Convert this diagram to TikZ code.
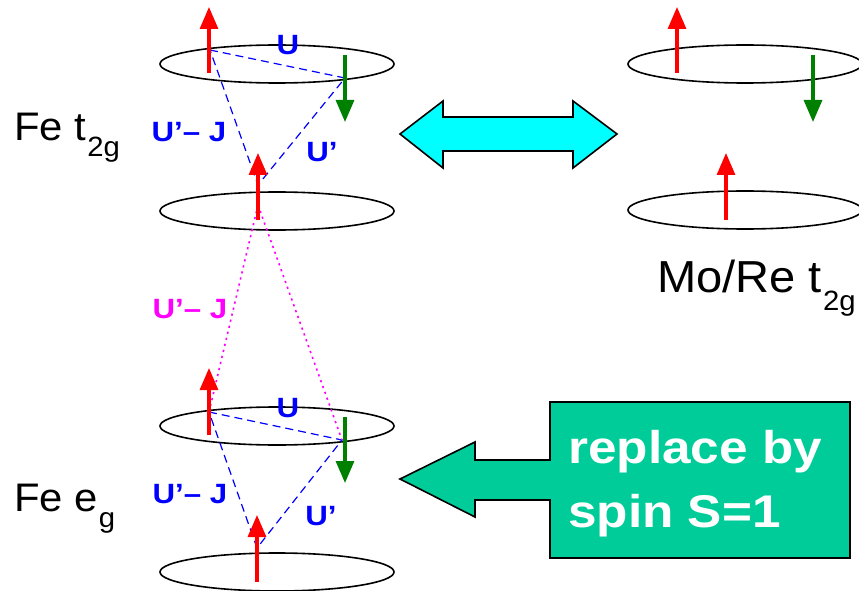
\documentclass[tikz,border=0pt]{standalone}
\usepackage{fontspec}
\usetikzlibrary{arrows.meta,shapes.geometric}
\newfontfamily\lab[FakeStretch=1.12]{Liberation Sans}
\newfontfamily\labw[FakeStretch=1.05]{Liberation Sans}
\definecolor{spinred}{RGB}{255,0,0}
\definecolor{spingreen}{RGB}{0,128,0}
\definecolor{ublue}{RGB}{0,0,255}
\definecolor{umag}{RGB}{255,0,255}
\definecolor{swapcyan}{RGB}{0,255,255}
\definecolor{boxteal}{RGB}{0,204,153}
\tikzset{
  level/.style={draw=black, line width=1.6bp, ellipse, minimum width=234bp, minimum height=38bp, inner sep=0pt},
  spin/.style={line width=3.2bp, -{Triangle[width=18bp,length=22bp]}},
  upspin/.style={spin, spinred},
  downspin/.style={spin, spingreen},
  coulomb/.style={ublue, line width=1.2bp, dash pattern=on 8bp off 5bp},
  hund/.style={umag, line width=1.6bp, dash pattern=on 2.2bp off 4bp},
  blab/.style={text=ublue, font=\lab\bfseries\fontsize{28}{28}\selectfont, anchor=base, inner sep=0pt},
  mlab/.style={text=umag, font=\lab\bfseries\fontsize{28}{28}\selectfont, anchor=base, inner sep=0pt},
  big/.style={font=\labw\fontsize{40}{40}\selectfont, anchor=base west, inner sep=0pt},
  bigger/.style={font=\labw\fontsize{45}{45}\selectfont, anchor=base west, inner sep=0pt},
  fatarrow/.style={draw=black, line width=1.6bp, line join=miter},
}
% lowered index in the running label font: size, drop, gap, text
\newcommand{\idx}[4]{\hspace{#3}\raisebox{-#2}{\fontsize{#1}{#1}\selectfont #4}}
\begin{document}
\begin{tikzpicture}[x=1bp, y=-1bp]
\useasboundingbox (0,0) rectangle (859,591);

% orbital levels
\node[level] (ft1) at (277,64) {};
\node[level] (ft2) at (277,211) {};
\node[level] (mt1) at (745,64) {};
\node[level] (mt2) at (745,210) {};
\node[level] (fe1) at (277,426) {};
\node[level] (fe2) at (277,572) {};

% spin end points
\coordinate (a1) at (209,73);  \coordinate (a1t) at (209,7);
\coordinate (b1) at (345,55);  \coordinate (b1t) at (345,122);
\coordinate (c1) at (258,220); \coordinate (c1t) at (258,153);
\coordinate (a2) at (209,435); \coordinate (a2t) at (209,368);
\coordinate (b2) at (345,417); \coordinate (b2t) at (345,483);
\coordinate (c2) at (257,582); \coordinate (c2t) at (257,515);
\coordinate (a3) at (677,73);  \coordinate (a3t) at (677,7);
\coordinate (b3) at (813,55);  \coordinate (b3t) at (813,122);
\coordinate (c3) at (726,220); \coordinate (c3t) at (726,153);

% interaction lines
\coordinate (pA1) at (210,50);  \coordinate (pB1) at (345,78);  \coordinate (pC1) at (258,185);
\coordinate (pA2) at (209,412); \coordinate (pB2) at (342,440); \coordinate (pC2) at (257,548);
\coordinate (pM)  at (258,205);
\draw[coulomb] (pA1) -- (pB1) -- (pC1) -- cycle;
\draw[coulomb] (pA2) -- (pB2) -- (pC2) -- cycle;
\draw[hund] (pM) -- (pA2);
\draw[hund] (pM) -- (pB2);

% spins
\draw[upspin] (a1) -- (a1t);
\draw[downspin] (b1) -- (b1t);
\draw[upspin] (c1) -- (c1t);
\draw[upspin] (a2) -- (a2t);
\draw[downspin] (b2) -- (b2t);
\draw[upspin] (c2) -- (c2t);
\draw[upspin] (a3) -- (a3t);
\draw[downspin] (b3) -- (b3t);
\draw[upspin] (c3) -- (c3t);

% interaction labels
\node[blab] (u1) at (288,55) {U};
\node[blab] (uj1) at (189,142) {U’– J};
\node[blab] (up1) at (322,162) {U’};
\node[mlab] (ujm) at (190,318) {U’– J};
\node[blab] (u2) at (288,417) {U};
\node[blab] (uj2) at (190,503) {U’– J};
\node[blab] (up2) at (321,525) {U’};

% level names
\node[big] (lt) at (14,141) {Fe t\idx{28}{16bp}{1bp}{2g}};
\node[big] (le) at (14,511) {Fe e\idx{28}{16bp}{1bp}{g}};
\node[bigger] (lm) at (657,292) {Mo/Re t\idx{28}{18bp}{1bp}{2g}};

% exchange arrow
\draw[fatarrow, fill=swapcyan] (400,134) -- (443,101) -- (443,117) -- (573,117) -- (573,101)
  -- (617,134) -- (573,168) -- (573,151) -- (443,151) -- (443,168) -- cycle;

% replacement box with arrow
\draw[fatarrow, fill=boxteal] (400,479) -- (475,442) -- (475,460) -- (550,460) -- (550,402)
  -- (850,402) -- (850,558) -- (550,558) -- (550,500) -- (475,500) -- (475,517) -- cycle;
\node[anchor=base west, inner sep=0pt, text=white, font=\lab\bfseries\fontsize{46}{46}\selectfont] (r1) at (568,463) {replace by};
\node[anchor=base west, inner sep=0pt, text=white, font=\lab\bfseries\fontsize{46}{46}\selectfont] (r2) at (568,527) {spin S=1};
\end{tikzpicture}
\end{document}
